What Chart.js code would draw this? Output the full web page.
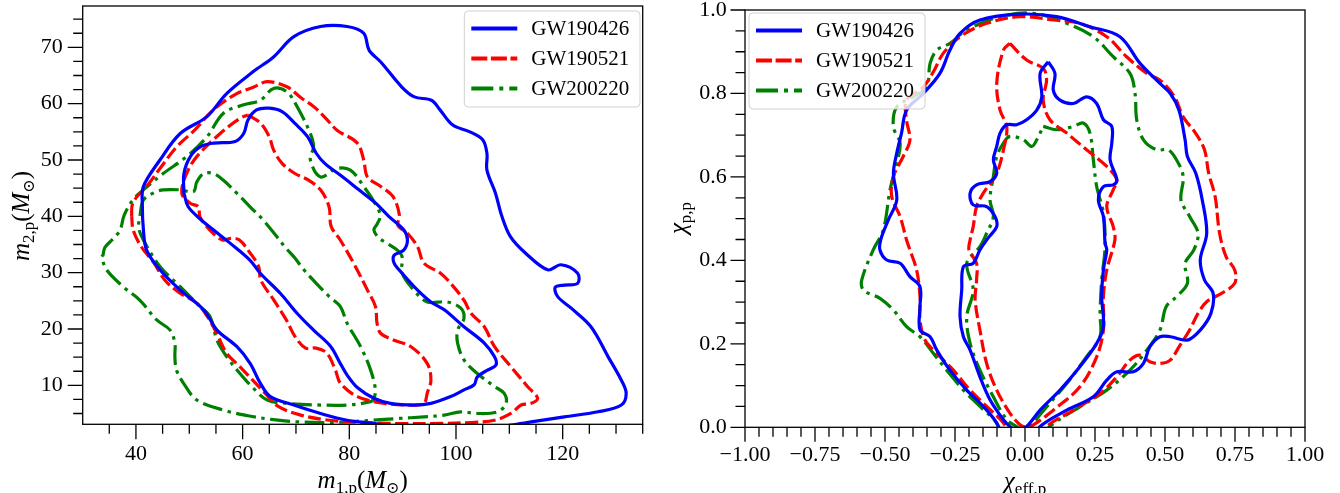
<!DOCTYPE html>
<html><head><meta charset="utf-8">
<script src="https://cdn.jsdelivr.net/npm/chart.js@4.4.0/dist/chart.umd.min.js"></script>
<style>
html,body{margin:0;padding:0;background:#fff;}
#wrap{position:relative;width:1340px;height:493px;overflow:hidden;background:#fff;}
canvas{position:absolute;top:0;}
</style></head><body>
<div id="wrap">
<canvas id="c1" width="670" height="493" style="left:0"></canvas>
<canvas id="c2" width="670" height="493" style="left:670px"></canvas>
</div>
<script>
// ---------------- data ----------------
const seriesNames = ['GW190426', 'GW190521', 'GW200220'];

// left panel: (m1, m2) credible contours [m1, m2]
const m_GW190426_90 = [[96,1.8],[107,2.3],[110.3,2.95],[114.1,3.5],[120.3,4.4],[126.6,5.3],[131,6.5],[131.9,8.6],[131,10.9],[128.5,15.1],[125.3,20.4],[121.6,23.7],[119.1,25.7],[118.6,27.4],[120.3,27.8],[122.8,28.1],[122.8,29.9],[119.7,31.4],[117.2,30.5],[113,33.5],[110.2,36.4],[108.6,40],[107.4,44.1],[105.8,48.2],[105.8,51.2],[105,53.6],[102.6,55],[99.4,56.2],[97,58.9],[95.4,60.6],[92.2,61.2],[89.8,63],[85.9,67.4],[83.7,69.5],[82.7,72.5],[79.6,73.7],[74.6,73.7],[69.6,71.9],[65.8,68.3],[62,65.7],[57,61.8],[53.3,57.7],[48.3,54.7],[44.5,50],[41.4,45.3],[41.2,42],[41.4,37.6],[42,34],[44.5,30.5],[48.3,26.9],[52.7,23.4],[55.2,19.8],[58.9,16.9],[61.4,13.9],[63.3,10.4],[65.2,8],[69.6,6.5],[74.6,5],[79.6,3.8],[84.6,3.25],[90,2.4],[96,1.8]];
const m_GW190426_50 = [[49,44.1],[49.8,41.7],[52.2,39.4],[54.5,37.6],[57.7,35.2],[61.4,32.2],[63.3,29.9],[67.1,26.3],[70.2,22.8],[73.3,19.8],[76.5,16.9],[78.3,13.9],[79.6,11.8],[81.5,9.6],[84.6,7.7],[87.7,6.8],[92.1,6.5],[95.3,6.8],[99,8],[101.5,9.2],[103.4,10.1],[104,11.5],[105.9,12.7],[107.5,13.6],[107.2,15.1],[105.3,17.5],[101.5,20.4],[97.8,23.4],[95.3,24.8],[92.8,26.9],[89.9,29.9],[88.4,31.7],[88.4,33.1],[90.2,34],[90.9,35.8],[90.2,37.6],[87.4,40],[85,42.3],[81.8,44.7],[78.6,47.1],[75.4,49.4],[73.8,51.2],[72.2,54.1],[69.8,56.5],[67.4,58.6],[65,59.2],[62.6,58.9],[61,57.1],[60.2,54.7],[58.6,53.3],[54.6,53],[52.2,52.4],[50.2,50.6],[49,47.6],[49,44.1]];
const m_GW190521_90 = [[39.2,40],[39.3,42],[40.2,43.5],[42,45.3],[44.5,48.5],[47.7,52.4],[51,55.3],[54.5,58.9],[58.9,61.8],[62,62.9],[64.6,63.9],[68.3,63],[71,61],[73.3,59.5],[75.5,57.5],[77.7,55.3],[81.5,53],[82.7,50],[83.4,47],[85.9,45.3],[88.2,43.5],[89.4,40.2],[89.1,38.4],[90.9,37],[92.8,34.6],[94,31.7],[97.1,29.9],[99,28.1],[101.5,25.1],[102.8,22.8],[105.3,20.4],[107.2,16.9],[110.3,13.3],[113.4,9.8],[115.3,7.7],[114.1,6.8],[112.2,6.5],[110.3,5],[107.2,3.8],[102.8,3.4],[97.1,3.25],[90,3.2],[85,3.3],[80.2,3.5],[75.4,3.9],[70.6,4.8],[66.6,6.3],[64.2,8.6],[61.8,11],[59.4,13.4],[57,15.7],[55.4,18.7],[53.8,21.6],[51.4,24.6],[48.2,26.4],[45.4,28.7],[43.4,31.7],[41,34.6],[39.5,37.5],[39.2,40]];
const m_GW190521_50 = [[61,58],[63.4,56.5],[65,54.1],[65.8,51.8],[67.4,49.4],[69.8,47.6],[72.2,46.5],[74.6,44.7],[76.2,41.7],[76.6,38.2],[78.3,35.8],[80.8,31.7],[83.4,26.9],[84.9,24],[85.2,21],[85.9,19.2],[88.4,18],[91.5,16.9],[94.6,13.9],[95.3,10.9],[94.6,8.6],[94,6.8],[91.5,6.5],[86.5,6.8],[81.5,8],[78.3,10.4],[77.4,12.7],[75.8,15.7],[73.8,16.6],[71.8,16.6],[69.8,18.7],[68.2,21.6],[65.8,25.2],[63.4,28.7],[63,31.1],[61.4,33.5],[59.4,35.8],[57.8,36.1],[56.2,35.8],[53.8,37.6],[52,39.9],[51.7,41.7],[50.2,42.3],[48.6,44.1],[49.5,47.6],[51.4,50.6],[55.8,54.7],[59.5,57.4],[61,58]];
const m_GW200220_90 = [[33.8,33],[34.2,34.5],[35.5,35.8],[37,37.5],[37.8,40.2],[39.5,43],[41.4,44.7],[45.1,47.6],[49.5,50.6],[53.3,54.1],[56.4,58.3],[60.2,59.8],[63.3,60.6],[65.8,62.7],[68.3,62.1],[70.2,59.5],[72.7,54.7],[73.3,52.4],[72.7,50],[74.6,47],[77.7,48.5],[80.2,48.2],[82.7,45.3],[85.2,41.7],[85.8,40],[85.2,38.6],[84.6,37.6],[85.5,36.2],[87.1,35.2],[89,34],[89.9,32.8],[89.9,29.9],[92.1,26.9],[94.6,24.8],[98.4,24.8],[100.9,23.7],[101.5,21.9],[100.3,19.8],[100.3,17.5],[101.5,14.5],[104,12.1],[107.2,9.8],[109,8.6],[109.4,6.8],[107.8,5.3],[104,5],[100.9,5.3],[97.8,4.7],[94,4.4],[89,4.1],[82.7,3.7],[76.5,3.4],[70.6,3.5],[65.8,3.9],[61,4.6],[56.4,5.6],[51.4,7.4],[48.9,10.4],[47.6,12.7],[47.3,15.1],[47.3,17.5],[46.4,19.8],[43.9,21.6],[40.75,25.1],[37.6,27.5],[34.5,30.5],[33.6,32.8],[33.8,33]];
const m_GW200220_50 = [[40.75,40.1],[41.4,42.9],[43.4,44.2],[45.1,44.7],[48.3,44.7],[50.8,44.4],[51.4,46.1],[52.7,47.6],[54.5,47.6],[56.4,46.4],[58.9,44.1],[61.4,41.7],[63.9,39.3],[66.4,36.4],[68,34.5],[69.8,32.6],[71.4,30.6],[73.8,28.1],[76.2,25.8],[78.3,24],[79.6,21],[82.1,16.9],[84,12.7],[84.9,9.2],[84.6,7.7],[84,7.1],[79.6,6.5],[74.6,6.5],[68.3,6.8],[64.6,7.4],[62,9.5],[59.5,12.1],[57,15.1],[55.2,18],[53.9,22.2],[52,24],[48.3,27.5],[44.5,31.1],[41.4,35.8],[40.5,38],[40.75,40.1]];

// right panel: (chi_eff, chi_p) credible contours [chi_eff, chi_p]
const chi_GW190426_90 = [[0.03,-0.03],[0.054,0.002],[0.149,0.041],[0.244,0.073],[0.292,0.113],[0.328,0.133],[0.387,0.133],[0.423,0.153],[0.446,0.193],[0.482,0.217],[0.519,0.217],[0.58,0.209],[0.626,0.233],[0.664,0.273],[0.672,0.321],[0.641,0.353],[0.626,0.401],[0.649,0.465],[0.633,0.545],[0.61,0.609],[0.58,0.649],[0.572,0.688],[0.55,0.76],[0.519,0.8],[0.482,0.824],[0.411,0.872],[0.339,0.936],[0.232,0.96],[0.113,0.984],[-0.018,0.99],[-0.161,0.976],[-0.232,0.944],[-0.268,0.904],[-0.304,0.848],[-0.363,0.8],[-0.423,0.76],[-0.441,0.705],[-0.458,0.657],[-0.47,0.608],[-0.458,0.545],[-0.488,0.497],[-0.515,0.45],[-0.518,0.425],[-0.494,0.401],[-0.446,0.393],[-0.411,0.361],[-0.375,0.337],[-0.375,0.289],[-0.375,0.233],[-0.339,0.217],[-0.315,0.185],[-0.268,0.137],[-0.208,0.089],[-0.149,0.05],[-0.101,0.01],[-0.08,-0.03]];
const chi_GW190426_50 = [[0.083,0.876],[0.107,0.848],[0.101,0.808],[0.125,0.784],[0.173,0.776],[0.22,0.792],[0.256,0.776],[0.28,0.737],[0.31,0.721],[0.31,0.681],[0.304,0.641],[0.328,0.593],[0.315,0.581],[0.28,0.577],[0.262,0.545],[0.28,0.505],[0.286,0.441],[0.292,0.425],[0.28,0.377],[0.274,0.313],[0.28,0.241],[0.256,0.201],[0.196,0.145],[0.125,0.089],[0.054,0.041],[0.006,0.002],[-0.025,-0.01],[-0.054,0.002],[-0.077,0.018],[-0.125,0.066],[-0.161,0.121],[-0.196,0.185],[-0.22,0.217],[-0.232,0.265],[-0.226,0.329],[-0.22,0.385],[-0.185,0.393],[-0.161,0.425],[-0.13,0.455],[-0.101,0.481],[-0.107,0.505],[-0.137,0.529],[-0.185,0.533],[-0.196,0.561],[-0.173,0.581],[-0.125,0.589],[-0.101,0.609],[-0.113,0.641],[-0.101,0.673],[-0.089,0.705],[-0.065,0.725],[-0.03,0.725],[0.006,0.737],[0.042,0.76],[0.06,0.792],[0.054,0.848],[0.083,0.876]];
const chi_GW190521_90 = [[0.05,-0.03],[0.077,0.002],[0.173,0.041],[0.268,0.081],[0.328,0.121],[0.375,0.161],[0.411,0.173],[0.446,0.157],[0.482,0.153],[0.519,0.161],[0.55,0.193],[0.588,0.233],[0.618,0.273],[0.649,0.301],[0.702,0.321],[0.749,0.345],[0.749,0.377],[0.718,0.409],[0.695,0.465],[0.679,0.553],[0.656,0.609],[0.641,0.665],[0.61,0.704],[0.565,0.744],[0.534,0.792],[0.482,0.832],[0.435,0.848],[0.363,0.888],[0.292,0.936],[0.196,0.968],[0.101,0.976],[-0.018,0.984],[-0.137,0.968],[-0.232,0.936],[-0.292,0.896],[-0.327,0.852],[-0.363,0.816],[-0.423,0.784],[-0.423,0.736],[-0.411,0.688],[-0.435,0.649],[-0.47,0.601],[-0.476,0.553],[-0.446,0.505],[-0.423,0.449],[-0.411,0.425],[-0.387,0.377],[-0.375,0.313],[-0.375,0.257],[-0.357,0.209],[-0.315,0.177],[-0.256,0.137],[-0.196,0.089],[-0.137,0.05],[-0.077,0.01],[-0.05,-0.03]];
const chi_GW190521_50 = [[-0.054,0.92],[0.006,0.88],[0.065,0.86],[0.077,0.832],[0.065,0.784],[0.089,0.737],[0.149,0.705],[0.22,0.665],[0.292,0.625],[0.328,0.593],[0.315,0.569],[0.292,0.529],[0.315,0.481],[0.321,0.449],[0.292,0.377],[0.28,0.313],[0.28,0.233],[0.256,0.169],[0.196,0.097],[0.101,0.041],[0.03,0.006],[0,0.001],[-0.018,0.006],[-0.054,0.034],[-0.101,0.089],[-0.137,0.153],[-0.161,0.233],[-0.178,0.305],[-0.173,0.353],[-0.173,0.393],[-0.2,0.425],[-0.196,0.449],[-0.185,0.481],[-0.173,0.529],[-0.149,0.561],[-0.101,0.609],[-0.077,0.665],[-0.065,0.72],[-0.089,0.76],[-0.101,0.824],[-0.077,0.904],[-0.054,0.92]];
const chi_GW200220_90 = [[0.06,-0.03],[0.089,0.002],[0.196,0.049],[0.292,0.089],[0.375,0.137],[0.435,0.185],[0.482,0.233],[0.504,0.289],[0.541,0.313],[0.58,0.345],[0.572,0.393],[0.603,0.425],[0.618,0.465],[0.588,0.505],[0.557,0.545],[0.565,0.601],[0.541,0.641],[0.511,0.665],[0.47,0.665],[0.423,0.689],[0.399,0.737],[0.393,0.8],[0.375,0.848],[0.315,0.888],[0.244,0.936],[0.149,0.968],[0.03,0.992],[-0.089,0.984],[-0.208,0.952],[-0.268,0.92],[-0.315,0.904],[-0.339,0.872],[-0.351,0.816],[-0.399,0.792],[-0.458,0.768],[-0.47,0.72],[-0.446,0.681],[-0.458,0.633],[-0.482,0.569],[-0.506,0.473],[-0.542,0.425],[-0.583,0.353],[-0.577,0.329],[-0.518,0.309],[-0.47,0.281],[-0.423,0.241],[-0.375,0.217],[-0.327,0.177],[-0.28,0.137],[-0.22,0.089],[-0.161,0.05],[-0.101,0.01],[-0.08,-0.03]];
const chi_GW200220_50 = [[0.065,0.721],[0.113,0.713],[0.173,0.721],[0.208,0.729],[0.232,0.705],[0.244,0.641],[0.256,0.577],[0.28,0.513],[0.286,0.433],[0.274,0.353],[0.268,0.273],[0.268,0.217],[0.22,0.169],[0.149,0.105],[0.077,0.049],[0.018,0.002],[-0.005,-0.01],[-0.03,0.002],[-0.065,0.018],[-0.113,0.073],[-0.161,0.137],[-0.196,0.201],[-0.208,0.265],[-0.185,0.329],[-0.208,0.393],[-0.161,0.433],[-0.137,0.465],[-0.113,0.505],[-0.125,0.545],[-0.113,0.601],[-0.101,0.649],[-0.077,0.681],[-0.054,0.697],[-0.006,0.689],[0.024,0.673],[0.042,0.689],[0.065,0.721]];

// tick labels
const leftXTicks = [40, 60, 80, 100, 120];
const leftYTicks = [10, 20, 30, 40, 50, 60, 70];
const rightXTicks = [-1, -0.75, -0.5, -0.25, 0, 0.25, 0.5, 0.75, 1];
const rightYTicks = [0, 0.2, 0.4, 0.6, 0.8, 1.0];

// ---------------- styles ----------------
const FONT = "'Liberation Serif','Times New Roman','DejaVu Serif',serif";
const LW = 3.2;
const seriesStyle = {
  GW190426: {color: '#0000ff', dash: [], legendDash: []},
  GW190521: {color: '#ff0000', dash: [13, 4.5], legendDash: [16, 3.6]},
  GW200220: {color: '#008000', dash: [20, 5.5, 3.5, 5.5], legendDash: [22, 6, 4, 6]}
};

Chart.defaults.font.family = FONT;
Chart.defaults.color = '#000';

function ds(name, pts) {
  const st = seriesStyle[name];
  return {
    label: name,
    data: pts.map(p => ({x: p[0], y: p[1]})),
    showLine: true, fill: false,
    borderColor: st.color, borderWidth: LW, borderDash: st.dash,
    borderJoinStyle: 'round',
    pointRadius: 0, pointHoverRadius: 0,
    tension: 0.35, clip: 0
  };
}

function range(a, b, step) { const out = []; const n = Math.round((b - a) / step); for (let i = 0; i <= n; i++) out.push(+(a + i * step).toFixed(6)); return out; }

// ---------------- plugins ----------------
const frameTicks = {
  id: 'frameTicks',
  afterDatasetsDraw(chart) {
    const o = chart.options.plugins.frameTicks;
    const {ctx, chartArea: a, scales: {x, y}} = chart;
    ctx.save();
    ctx.strokeStyle = '#000';
    ctx.lineWidth = 1.3;
    ctx.beginPath();
    const isMaj = (v, majors) => majors.some(m => Math.abs(m - v) < 1e-6);
    for (const v of o.xAll) {
      if (v < x.min - 1e-9 || v > x.max + 1e-9) continue;
      const px = x.getPixelForValue(v);
      const L = isMaj(v, o.xMaj) ? o.majLen : o.minLen;
      ctx.moveTo(px, a.bottom); ctx.lineTo(px, a.bottom + L);
    }
    for (const v of o.yAll) {
      if (v < y.min - 1e-9 || v > y.max + 1e-9) continue;
      const py = y.getPixelForValue(v);
      const L = isMaj(v, o.yMaj) ? o.majLen : o.minLen;
      ctx.moveTo(a.left, py); ctx.lineTo(a.left - L, py);
    }
    ctx.stroke();
    ctx.strokeRect(a.left, a.top, a.right - a.left, a.bottom - a.top);
    ctx.restore();
  }
};

const boxLegend = {
  id: 'boxLegend',
  afterDatasetsDraw(chart) {
    const o = chart.options.plugins.boxLegend;
    const ctx = chart.ctx;
    ctx.save();
    ctx.beginPath();
    ctx.roundRect(o.x, o.y, o.w, o.h, 4);
    ctx.fillStyle = 'rgba(255,255,255,0.8)';
    ctx.fill();
    ctx.strokeStyle = 'rgba(204,204,204,0.9)';
    ctx.lineWidth = 1;
    ctx.stroke();
    seriesNames.forEach((name, i) => {
      const st = seriesStyle[name];
      const yy = o.y + 17.5 + i * 30;
      ctx.beginPath();
      ctx.setLineDash(st.legendDash);
      ctx.strokeStyle = st.color;
      ctx.lineWidth = 4;
      ctx.lineCap = 'butt';
      ctx.moveTo(o.x + 7, yy); ctx.lineTo(o.x + 53, yy);
      ctx.stroke();
      ctx.setLineDash([]);
      ctx.fillStyle = '#000';
      ctx.font = `21px ${FONT}`;
      ctx.textBaseline = 'middle';
      ctx.textAlign = 'left';
      ctx.fillText(name, o.x + 67, yy + 1);
    });
    ctx.restore();
  }
};

function drawRich(ctx, parts, x, y, rot) {
  ctx.save();
  ctx.translate(x, y);
  if (rot) ctx.rotate(rot);
  const fs = p => `${p.i ? 'italic ' : ''}${p.s}px ${FONT}`;
  let w = 0;
  for (const p of parts) { ctx.font = fs(p); p._w = ctx.measureText(p.t).width; w += p._w + (p.g || 0); }
  let cx = -w / 2;
  ctx.textBaseline = 'alphabetic'; ctx.textAlign = 'left'; ctx.fillStyle = '#000';
  for (const p of parts) { ctx.font = fs(p); ctx.fillText(p.t, cx, p.dy || 0); cx += p._w + (p.g || 0); }
  ctx.restore();
}

const richTitles = {
  id: 'richTitles',
  afterDraw(chart) {
    const o = chart.options.plugins.richTitles;
    const a = chart.chartArea;
    drawRich(chart.ctx, o.x, (a.left + a.right) / 2, o.xBase, 0);
    drawRich(chart.ctx, o.y, o.yBase, o.yCenter, -Math.PI / 2);
  }
};

function scaleOpts(min, max, majors, fmt, pad, fitSize, isX) {
  return {
    type: 'linear', min, max,
    grid: {display: false, drawTicks: false},
    border: {display: false},
    ticks: {padding: pad, font: {size: 22, family: FONT}, color: '#000', callback: v => fmt(v), autoSkip: false, maxRotation: 0},
    afterBuildTicks: s => { s.ticks = majors.map(v => ({value: v})); },
    afterFit: s => {
      if (isX) s.height = fitSize; else s.width = fitSize;
      s.paddingLeft = 0; s.paddingRight = 0; s.paddingTop = 0; s.paddingBottom = 0;
    }
  };
}

const minus = s => s.replace('-', '\u2212');

// ---------------- left chart ----------------
new Chart(document.getElementById('c1'), {
  type: 'scatter',
  data: {datasets: [
    ds('GW190426', m_GW190426_90), ds('GW190426', m_GW190426_50),
    ds('GW190521', m_GW190521_90), ds('GW190521', m_GW190521_50),
    ds('GW200220', m_GW200220_90), ds('GW200220', m_GW200220_50)
  ]},
  options: {
    responsive: false, animation: false, devicePixelRatio: 1, events: [],
    layout: {padding: {top: 6, right: 27.3, left: 0, bottom: 0}},
    plugins: {
      legend: {display: false}, tooltip: {enabled: false},
      frameTicks: {xAll: range(30, 135, 5), xMaj: leftXTicks, yAll: range(2.5, 77.5, 2.5), yMaj: leftYTicks, majLen: 15, minLen: 9.5},
      boxLegend: {x: 464.3, y: 11, w: 175.7, h: 96},
      richTitles: {
        x: [{t: 'm', i: 1, s: 25}, {t: '1,p', s: 17, dy: 5}, {t: '(', s: 25}, {t: 'M', i: 1, s: 25}, {t: '\u2299', s: 16, dy: 5}, {t: ')', s: 25}],
        xBase: 488,
        y: [{t: 'm', i: 1, s: 25}, {t: '2,p', s: 17, dy: 5}, {t: '(', s: 25}, {t: 'M', i: 1, s: 25}, {t: '\u2299', s: 16, dy: 5}, {t: ')', s: 25}],
        yBase: 29, yCenter: 216
      }
    },
    scales: {
      x: scaleOpts(30.02, 135, leftXTicks, v => String(v), 16.5, 493 - 424.3, true),
      y: scaleOpts(3.08, 77.34, leftYTicks, v => String(v), 20, 82.7, false)
    }
  },
  plugins: [frameTicks, boxLegend, richTitles]
});

// ---------------- right chart ----------------
new Chart(document.getElementById('c2'), {
  type: 'scatter',
  data: {datasets: [
    ds('GW190426', chi_GW190426_90), ds('GW190426', chi_GW190426_50),
    ds('GW190521', chi_GW190521_90), ds('GW190521', chi_GW190521_50),
    ds('GW200220', chi_GW200220_90), ds('GW200220', chi_GW200220_50)
  ]},
  options: {
    responsive: false, animation: false, devicePixelRatio: 1, events: [],
    layout: {padding: {top: 10, right: 35, left: 0, bottom: 0}},
    plugins: {
      legend: {display: false}, tooltip: {enabled: false},
      frameTicks: {xAll: range(-1, 1, 0.05), xMaj: rightXTicks, yAll: range(0, 1, 0.05), yMaj: rightYTicks, majLen: 14.5, minLen: 9.5},
      boxLegend: {x: 79, y: 13, w: 176, h: 96},
      richTitles: {
        x: [{t: '\u03c7', i: 1, s: 25}, {t: 'eff,p', s: 17, dy: 5}],
        xBase: 488.5,
        y: [{t: '\u03c7', i: 1, s: 25}, {t: 'p,p', s: 17, dy: 5}],
        yBase: 16, yCenter: 218
      }
    },
    scales: {
      x: scaleOpts(-1, 1, rightXTicks, v => minus(v.toFixed(2)), 14.5, 493 - 427.3, true),
      y: scaleOpts(0, 1, rightYTicks, v => v.toFixed(1), 18.3, 75, false)
    }
  },
  plugins: [frameTicks, boxLegend, richTitles]
});
</script>
</body></html>
